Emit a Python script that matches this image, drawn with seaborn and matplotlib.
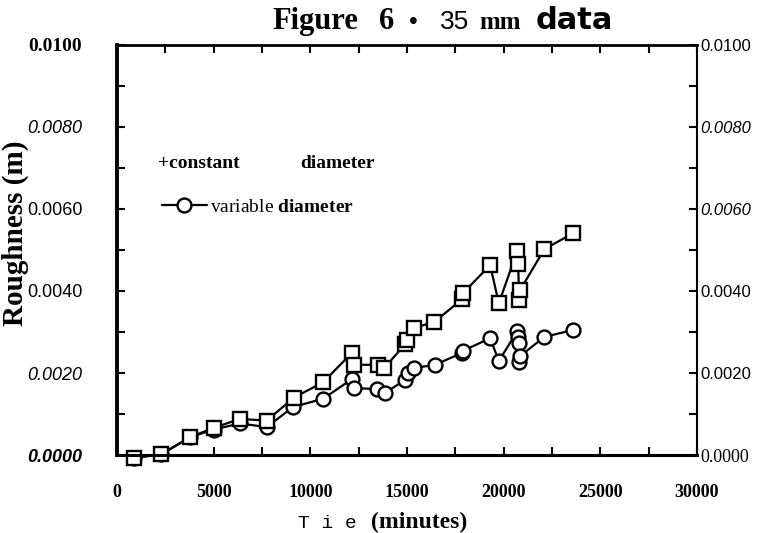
import numpy as np
import pandas as pd
import matplotlib
matplotlib.use("Agg")
import matplotlib.pyplot as plt
import matplotlib.transforms as mtrans
import seaborn as sns
from matplotlib.lines import Line2D
from matplotlib.ticker import MultipleLocator, FixedLocator, FixedFormatter

# ---------------- data ----------------
const_time = [900, 2300, 3800, 5000, 6350, 7750, 9150, 10650, 12150, 12250, 13500, 13800,
              14900, 15000, 15350, 16400, 17850, 17900, 19300, 19750, 20700, 20750,
              20800, 20850, 22100, 23600]
const_rough = [-0.00007, 0.00002, 0.00044, 0.00066, 0.00088, 0.00084, 0.00140, 0.00177,
               0.00249, 0.00220, 0.00220, 0.00211, 0.00270, 0.00280, 0.00310, 0.00324,
               0.00380, 0.00395, 0.00463, 0.00370, 0.00498, 0.00465, 0.00378, 0.00402,
               0.00502, 0.00541]
var_time = [900, 2300, 3800, 5000, 6350, 7750, 9100, 10650, 12150, 12250, 13450, 13850,
            14900, 15050, 15350, 16450, 17850, 17900, 19300, 19750, 20700, 20750, 20800,
            20800, 20850, 22100, 23600]
var_rough = [-0.00007, 0.00002, 0.00044, 0.00062, 0.00077, 0.00068, 0.00117, 0.00137,
             0.00185, 0.00163, 0.00161, 0.00151, 0.00183, 0.00200, 0.00212, 0.00220,
             0.00249, 0.00254, 0.00285, 0.00229, 0.00302, 0.00288, 0.00273, 0.00227,
             0.00241, 0.00288, 0.00305]

x_ticks = [0, 5000, 10000, 15000, 20000, 25000, 30000]
x_tick_labels = ["0", "5000", "10000", "15000", "20000", "25000", "30000"]
y_ticks = [0.0, 0.002, 0.004, 0.006, 0.008, 0.010]
y_tick_labels = ["0.0000", "0.0020", "0.0040", "0.0060", "0.0080", "0.0100"]

# ---------------- style ----------------
sns.set_theme(style="white", rc={
    "axes.edgecolor": "black", "text.color": "black", "xtick.color": "black",
    "ytick.color": "black", "axes.labelcolor": "black",
})
plt.rcParams["font.family"] = ["Liberation Serif", "DejaVu Sans"]
plt.rcParams["mathtext.fontset"] = "custom"
plt.rcParams["mathtext.rm"] = "Liberation Serif"
plt.rcParams["mathtext.bf"] = "Liberation Serif:bold"

W, H = 770, 533
fig = plt.figure(figsize=(W / 100, H / 100), dpi=100)
ax = fig.add_axes([117 / W, 1 - 455 / H, 580 / W, 410 / H])

df = pd.concat([
    pd.DataFrame({"time": var_time, "rough": var_rough, "series": "variable diameter"}),
    pd.DataFrame({"time": const_time, "rough": const_rough, "series": "constant diameter"}),
], ignore_index=True)

common = dict(color="black", linewidth=1.6, markerfacecolor="white",
              markeredgecolor="black", markeredgewidth=1.7, estimator=None,
              sort=False, legend=False, ax=ax, clip_on=False)
sns.lineplot(data=df[df.series == "variable diameter"], x="time", y="rough",
             marker="o", markersize=10, **common)
sns.lineplot(data=df[df.series == "constant diameter"], x="time", y="rough",
             marker="s", markersize=10, **common)

ax.set_xlim(0, 30000)
ax.set_ylim(0, 0.010)

# spines
for side, lw in {"left": 2.8, "bottom": 2.2, "top": 2.0, "right": 1.5}.items():
    ax.spines[side].set_visible(True)
    ax.spines[side].set_linewidth(lw)
    ax.spines[side].set_color("black")

ax.xaxis.set_major_locator(FixedLocator(x_ticks))
ax.xaxis.set_major_formatter(FixedFormatter(x_tick_labels))
ax.xaxis.set_minor_locator(MultipleLocator(2500))
ax.yaxis.set_major_locator(FixedLocator(y_ticks))
ax.yaxis.set_major_formatter(FixedFormatter(y_tick_labels))
ax.yaxis.set_minor_locator(MultipleLocator(0.001))

ax.tick_params(which="both", direction="in", length=6, width=1.5,
               bottom=True, top=True, left=True, right=True)
ax.tick_params(axis="x", which="major", pad=21, labelsize=13)
ax.tick_params(axis="y", which="major", pad=25, labelright=True, labelsize=13)

for lbl in ax.get_xticklabels():
    lbl.set_fontfamily("Liberation Serif")
    lbl.set_fontweight("bold")

left_styles = [
    dict(family="Liberation Sans", style="italic", weight="bold", size=13),
    dict(family="Liberation Sans", style="italic", weight="normal", size=13),
    dict(family="Liberation Sans", style="normal", weight="normal", size=13),
    dict(family="Liberation Sans", style="normal", weight="normal", size=13),
    dict(family="Liberation Sans", style="italic", weight="normal", size=13),
    dict(family="Liberation Serif", style="normal", weight="bold", size=14),
]
right_styles = [
    dict(family="Liberation Serif", style="normal", weight="normal", size=13),
    dict(family="Liberation Sans", style="normal", weight="normal", size=12),
    dict(family="Liberation Sans", style="normal", weight="normal", size=12),
    dict(family="Liberation Sans", style="italic", weight="normal", size=12),
    dict(family="Liberation Sans", style="italic", weight="normal", size=12),
    dict(family="Liberation Sans", style="normal", weight="normal", size=12),
]
for tick, ls, rs in zip(ax.yaxis.get_major_ticks(), left_styles, right_styles):
    for lab, st in ((tick.label1, ls), (tick.label2, rs)):
        lab.set_fontfamily(st["family"])
        lab.set_fontstyle(st["style"])
        lab.set_fontweight(st["weight"])
        lab.set_fontsize(st["size"])
# right labels closer to the spine
for tick in ax.yaxis.get_major_ticks():
    tick.label2.set_transform(ax.get_yaxis_transform(which="tick2") +
                              mtrans.ScaledTranslation(3 / 100, 0, fig.dpi_scale_trans))

# axis labels
ax.set_xlabel("")
ax.set_ylabel("Roughness (m)", fontsize=21, fontweight="bold", family="Liberation Serif")
ax.yaxis.set_label_coords((29 - 117) / 580, (455 - 233) / 410)

def fx(px):
    return px / W

def fy(py):
    return 1 - py / H

# x label (mixed fonts)
fig.text(fx(298), fy(528), "T i e", family="Liberation Mono", fontsize=14, va="baseline")
fig.text(fx(371), fy(528), "(minutes)", family="Liberation Serif", fontweight="bold",
         fontsize=17, va="baseline")

# title (mixed fonts)
fig.text(fx(272), fy(29), "Figure", family="Liberation Serif", fontweight="bold", fontsize=22, va="baseline")
fig.text(fx(379), fy(29), "6", family="Liberation Serif", fontweight="bold", fontsize=22, va="baseline")
fig.text(fx(409), fy(29), "\u2022", family="Liberation Sans", fontsize=18, va="baseline")
fig.text(fx(440), fy(29), "35", family="Liberation Sans", fontsize=19, va="baseline")
fig.text(fx(479), fy(29), "mm", family="Liberation Serif", fontweight="bold", fontsize=18, va="baseline")
fig.text(fx(536), fy(29), "data", family="DejaVu Sans", fontweight="bold", fontsize=22, va="baseline")

# legend
ax.text((158 - 117) / 580, (455 - 163) / 410, "+constant", transform=ax.transAxes,
        family="Liberation Serif", fontweight="bold", fontsize=14, va="center")
ax.text((300 - 117) / 580, (455 - 163) / 410, "diameter", transform=ax.transAxes,
        family="Liberation Serif", fontweight="bold", fontsize=14, va="center")
handle = Line2D([], [], color="black", linewidth=1.6, marker="o", markersize=10,
                markerfacecolor="white", markeredgecolor="black", markeredgewidth=1.7)
ax.legend(handles=[handle], labels=["variable $\\mathbf{diameter}$"],
          loc="center left", bbox_to_anchor=((162 - 117) / 580, (455 - 207) / 410),
          frameon=False, borderpad=0, borderaxespad=0, handlelength=2.3,
          handletextpad=0.15, prop={"family": "Liberation Serif", "size": 14})

fig.savefig("out.png", dpi=100)
